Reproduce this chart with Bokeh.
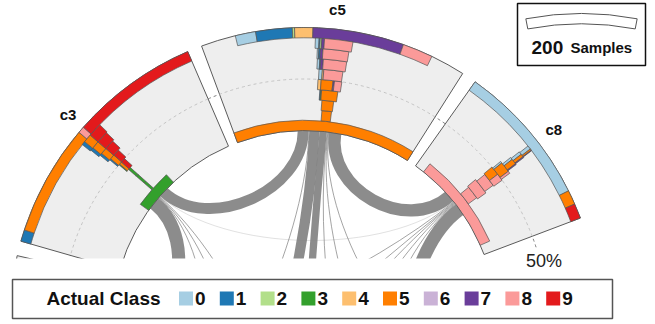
import math
from bokeh.plotting import figure
from bokeh.models import ColumnDataSource
from bokeh.core.properties import value
from bokeh.embed import file_html
from bokeh.resources import INLINE

# ---------------- data ----------------
CLASS_COLORS = ["#a6cee3", "#1f78b4", "#b2df8a", "#33a02c", "#fdbf6f",
                "#ff7f00", "#cab2d6", "#6a3d9a", "#fb9a99", "#e31a1c"]
LEGEND_LABELS = ["0", "1", "2", "3", "4", "5", "6", "7", "8", "9"]
LEGEND_TITLE = "Actual Class"
SCALE_SAMPLES = 200
SCALE_TEXT = "Samples"
RADIAL_LABEL = "50%"

# visible sectors (clockwise order)
SECTOR_NAMES = ["c3", "c5", "c8"]
SECTOR_CLASS = [3, 5, 8]
# outer ring: samples per actual class
OUTER_C3 = [0, 21, 0, 0, 0, 201, 0, 0, 12, 232]
OUTER_C5 = [37, 66, 4, 0, 33, 0, 0, 165, 55, 0]
OUTER_C8 = [259, 0, 0, 0, 0, 26, 0, 0, 0, 27]
# inner ring: samples of the sector's own class
INNER_COUNT = [103, 486, 257]
# score-bin histograms: bin -> {actual class: count}
BINS_C3 = {1: {3: 6}, 2: {3: 6}, 3: {3: 6},
           4: {3: 2, 5: 6, 9: 10},
           5: {1: 3, 5: 10, 9: 14},
           6: {1: 5, 5: 13, 9: 20},
           7: {1: 6, 5: 15, 9: 24},
           8: {1: 7, 5: 16, 9: 26}}
BINS_C5 = {1: {5: 24}, 2: {5: 28}, 3: {1: 2, 3: 2, 5: 37},
           4: {4: 7, 5: 26, 7: 3, 8: 16},
           5: {0: 7, 4: 3, 8: 40},
           6: {0: 5, 1: 2, 7: 5, 8: 47},
           7: {0: 3, 1: 3, 7: 5, 8: 50},
           8: {0: 7, 1: 2, 2: 3, 7: 5, 8: 53}}
BINS_C8 = {1: {8: 33}, 2: {8: 40}, 3: {8: 31},
           4: {5: 20, 8: 16},
           5: {0: 4, 5: 22, 8: 5},
           6: {0: 5, 5: 11, 7: 2},
           7: {0: 6, 5: 6, 7: 2},
           8: {0: 7, 5: 3, 7: 1}}
# sectors that lie outside the visible window (counter-clockwise after c3)
HIDDEN_NAMES = ["c2", "c4", "c6", "c7", "c9", "c0", "c1"]
HIDDEN_SIZE = [400, 184, 184, 184, 184, 184, 184]
# confusion links between sectors: (sector a, sector b, samples)
CHORDS = [("c3", "c5", 30), ("c3", "c2", 36), ("c3", "c4", 2), ("c3", "c6", 2),
          ("c3", "c7", 2), ("c3", "c8", 1),
          ("c5", "c4", 2), ("c5", "c6", 28), ("c5", "c7", 20), ("c5", "c9", 2),
          ("c5", "c0", 2), ("c5", "c1", 2), ("c5", "c8", 34),
          ("c8", "c0", 36), ("c8", "c9", 2), ("c8", "c7", 2), ("c8", "c6", 2),
          ("c8", "c4", 2), ("c8", "c2", 2)]

OUTER = [OUTER_C3, OUTER_C5, OUTER_C8]
BINS = [BINS_C3, BINS_C5, BINS_C8]

# ---------------- layout ----------------
W, H = 655, 324
CX, CY = 304.0, -322.0
R_IN, R_OUT = 192.0, 295.0
STEP = (R_OUT - R_IN) / 10.0
DEG = 21.75 / SCALE_SAMPLES        # degrees per sample
GAP = 2.9
START = 164.0
ANCHOR_SHIFT = [0.85, 1.5, 0.8]
R_DASH = R_IN + 5 * STEP
CLIP_Y = -258.0

rad = math.radians


def pt(r, a):
    return CX + r * math.cos(rad(a)), CY + r * math.sin(rad(a))


p = figure(width=W, height=H, x_range=(0, W), y_range=(-H, 0),
           output_backend="svg", toolbar_location=None,
           x_axis_type=None, y_axis_type=None, min_border=0)
p.grid.visible = False
p.outline_line_color = None
p.background_fill_color = "white"

# sector angular extents
sect = {}
hi = START
for i, name in enumerate(SECTOR_NAMES):
    w = max(sum(OUTER[i]), INNER_COUNT[i]) * DEG
    lo = hi - w
    sect[name] = (lo, hi, (lo + hi) / 2 + ANCHOR_SHIFT[i])
    hi = lo - GAP
lo = START + GAP
for name, n in zip(HIDDEN_NAMES, HIDDEN_SIZE):
    w = n * DEG
    sect[name] = (lo, lo + w, lo + w / 2)
    lo = lo + w + GAP

# dashed 50% circle through gaps
p.arc(x=[CX], y=[CY], radius=R_DASH, start_angle=rad(18), end_angle=rad(168),
      line_color="#808080", line_dash="3 3", line_width=1)

# sector backgrounds
names = SECTOR_NAMES + HIDDEN_NAMES
p.annular_wedge(x=CX, y=CY, inner_radius=R_IN, outer_radius=R_OUT,
                start_angle=[rad(sect[n][0]) for n in names],
                end_angle=[rad(sect[n][1]) for n in names],
                fill_color="#eeeeee", line_color="#5a5a5a", line_width=1)
p.arc(x=CX, y=CY, radius=R_DASH,
      start_angle=[rad(sect[n][0]) for n in SECTOR_NAMES],
      end_angle=[rad(sect[n][1]) for n in SECTOR_NAMES],
      line_color="#c4c4c4", line_dash="3 3", line_width=1)

# chords
groups = {}
for k, (a, b, c) in enumerate(CHORDS):
    groups.setdefault(a, []).append((b, c, k))
    groups.setdefault(b, []).append((a, c, k))
ends = {}
for s, lst in groups.items():
    anc = sect[s][2]
    lst.sort(key=lambda t: (sect[t[0]][2] - anc) % 360)
    tot = sum(t[1] for t in lst) * DEG
    cur = anc + tot / 2
    for other, c, k in lst:
        ends.setdefault(k, {})[s] = cur - c * DEG / 2
        cur -= c * DEG
ch = dict(x0=[], y0=[], x1=[], y1=[], cx0=[], cy0=[], cx1=[], cy1=[], w=[], al=[])
pxs = R_IN * rad(DEG)
for k, (a, b, c) in enumerate(CHORDS):
    aa, ab = ends[k][a], ends[k][b]
    d = abs(aa - ab) % 360
    d = min(d, 360 - d)
    f = max(0.3, 0.8 - 0.0025 * d)
    x0, y0 = pt(R_IN, aa)
    x1, y1 = pt(R_IN, ab)
    c0 = pt(R_IN * f, aa)
    c1 = pt(R_IN * f, ab)
    ch["x0"].append(x0); ch["y0"].append(y0)
    ch["x1"].append(x1); ch["y1"].append(y1)
    ch["cx0"].append(c0[0]); ch["cy0"].append(c0[1])
    ch["cx1"].append(c1[0]); ch["cy1"].append(c1[1])
    ch["w"].append(max(c * pxs, 0.8))
    ch["al"].append(0.9 if c > 1 else 0.3)
p.bezier(x0="x0", y0="y0", x1="x1", y1="y1", cx0="cx0", cy0="cy0", cx1="cx1", cy1="cy1",
         line_width="w", line_alpha="al", line_color="#808080",
         source=ColumnDataSource(ch))

# rings and histogram bars
wd = dict(r0=[], r1=[], s=[], e=[], col=[])


def add(r0, r1, a0, a1, col):
    wd["r0"].append(r0); wd["r1"].append(r1)
    wd["s"].append(rad(min(a0, a1))); wd["e"].append(rad(max(a0, a1)))
    wd["col"].append(col)


for i, name in enumerate(SECTOR_NAMES):
    lo, hi, anc = sect[name]
    mid = (lo + hi) / 2
    # outer ring
    a = mid + sum(OUTER[i]) * DEG / 2
    for cls, n in enumerate(OUTER[i]):
        if n:
            add(R_OUT - STEP, R_OUT, a, a - n * DEG, CLASS_COLORS[cls])
            a -= n * DEG
    # inner ring
    half = INNER_COUNT[i] * DEG / 2
    add(R_IN, R_IN + STEP, mid + half, mid - half, CLASS_COLORS[SECTOR_CLASS[i]])
    # bins, centred in the sector
    for b, counts in BINS[i].items():
        a = mid + sum(counts.values()) * DEG / 2
        for cls in sorted(counts):
            n = counts[cls]
            add(R_IN + b * STEP, R_IN + (b + 1) * STEP, a, a - n * DEG, CLASS_COLORS[cls])
            a -= n * DEG

p.annular_wedge(x=CX, y=CY, inner_radius="r0", outer_radius="r1",
                start_angle="s", end_angle="e", fill_color="col",
                line_color="#555555", line_width=0.7, source=ColumnDataSource(wd))

# sector titles
tx, ty = [], []
for n in SECTOR_NAMES:
    x, y = pt(R_OUT + 20, (sect[n][0] + sect[n][1]) / 2)
    tx.append(x); ty.append(y)
p.text(x=tx, y=ty, text=SECTOR_NAMES, text_font=value("Liberation Sans"),
       text_font_style="bold", text_font_size="15px", text_align="center",
       text_baseline="middle", text_color="#111111")

# clip the bottom of the wheel
p.quad(left=[0], right=[W], bottom=[-H], top=[CLIP_Y], fill_color="white", line_color=None)

# 50% label
lx, ly = pt(R_DASH, 16.5)
p.text(x=[lx + 6], y=[ly + 2], text=[RADIAL_LABEL], text_font=value("Liberation Sans"),
       text_font_size="18px", text_align="center", text_baseline="top", text_color="#222222")

# scale box
p.rect(x=[581], y=[-34], width=128, height=62, fill_color="white", line_color="#111111",
       line_width=1.5)
sc = SCALE_SAMPLES * DEG
p.annular_wedge(x=581, y=-13 - R_OUT, inner_radius=R_OUT - STEP, outer_radius=R_OUT,
                start_angle=rad(90 - sc / 2), end_angle=rad(90 + sc / 2),
                fill_color="white", line_color="#555555", line_width=1)
p.text(x=[531], y=[-47], text=[str(SCALE_SAMPLES)], text_font=value("Liberation Sans"),
       text_font_style="bold", text_font_size="19px", text_baseline="middle", text_color="#111111")
p.text(x=[570], y=[-47], text=[SCALE_TEXT], text_font=value("Liberation Sans"),
       text_font_style="bold", text_font_size="15px", text_baseline="middle", text_color="#111111")

# legend
p.rect(x=[312], y=[-298.5], width=600, height=39, fill_color="white", line_color="#555555",
       line_width=1.5)
p.text(x=[46], y=[-298], text=[LEGEND_TITLE], text_font=value("Liberation Sans"),
       text_font_style="bold", text_font_size="19px", text_baseline="middle", text_color="#111111")
lxs = [185.5 + 40.8 * i for i in range(len(LEGEND_LABELS))]
p.rect(x=lxs, y=-298, width=14, height=14, fill_color=CLASS_COLORS, line_color=None)
p.text(x=[x + 9 for x in lxs], y=-298, text=LEGEND_LABELS, text_font=value("Liberation Sans"),
       text_font_style="bold", text_font_size="19px", text_baseline="middle", text_color="#111111")

open("out.html", "w").write(file_html(p, INLINE))
